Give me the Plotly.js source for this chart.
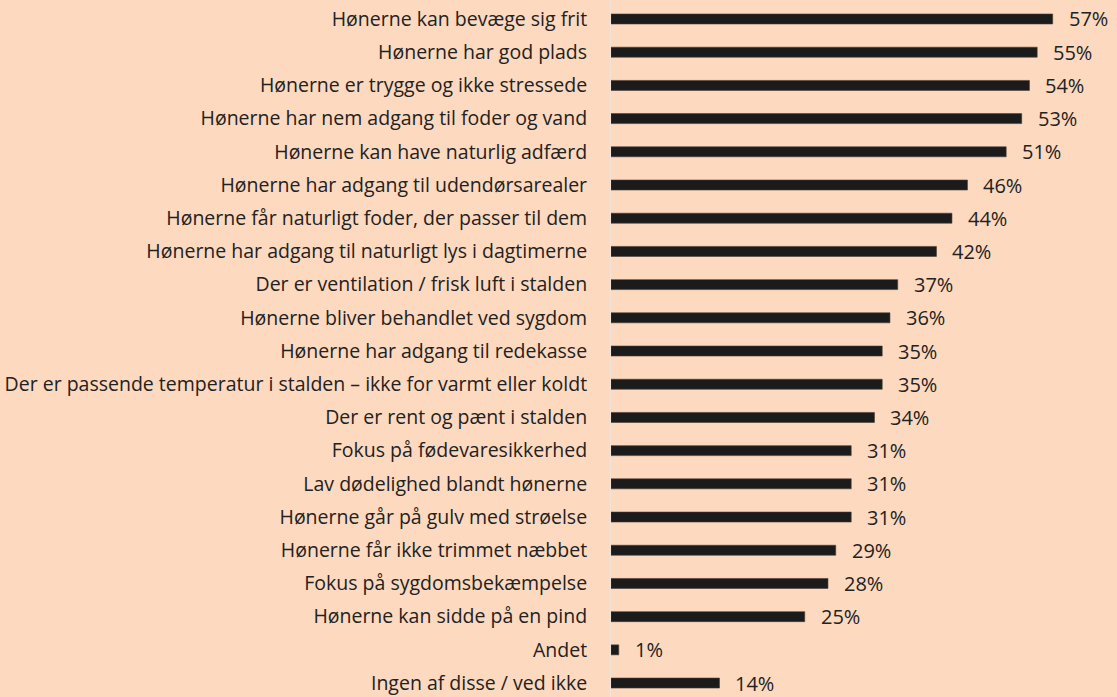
<!DOCTYPE html>
<html><head><meta charset="utf-8">
<script src="https://cdn.plot.ly/plotly-3.0.1.min.js"></script>
<style>html,body{margin:0;padding:0;background:#fcd9bf;}</style>
</head><body>
<div id="chart" style="width:1117px;height:697px;"></div>
<script>
const categories = [
  "Hønerne kan bevæge sig frit",
  "Hønerne har god plads",
  "Hønerne er trygge og ikke stressede",
  "Hønerne har nem adgang til foder og vand",
  "Hønerne kan have naturlig adfærd",
  "Hønerne har adgang til udendørsarealer",
  "Hønerne får naturligt foder, der passer til dem",
  "Hønerne har adgang til naturligt lys i dagtimerne",
  "Der er ventilation / frisk luft i stalden",
  "Hønerne bliver behandlet ved sygdom",
  "Hønerne har adgang til redekasse",
  "Der er passende temperatur i stalden – ikke for varmt eller koldt",
  "Der er rent og pænt i stalden",
  "Fokus på fødevaresikkerhed",
  "Lav dødelighed blandt hønerne",
  "Hønerne går på gulv med strøelse",
  "Hønerne får ikke trimmet næbbet",
  "Fokus på sygdomsbekæmpelse",
  "Hønerne kan sidde på en pind",
  "Andet",
  "Ingen af disse / ved ikke"
];
const values = [57, 55, 54, 53, 51, 46, 44, 42, 37, 36, 35, 35, 34, 31, 31, 31, 29, 28, 25, 1, 14];
const valueLabels = values.map(v => v + "%");

const font = "'Open Sans', sans-serif";
const trace = {
  type: "bar",
  orientation: "h",
  y: categories,
  x: values,
  width: 0.3,
  marker: {color: "#1b1b1b", line: {color: "#4a3a32", width: 0.6}},
  hoverinfo: "skip"
};
const annotations = values.map((v, i) => ({
  x: v, y: categories[i], xref: "x", yref: "y",
  text: valueLabels[i], showarrow: false,
  xanchor: "left", yanchor: "middle", xshift: 14,
  font: {family: font, size: 20, color: "#222"}
}));
const layout = {
  width: 1117, height: 697,
  paper_bgcolor: "#fcd9bf", plot_bgcolor: "#fcd9bf",
  margin: {l: 611, r: 0, t: 0, b: 0},
  showlegend: false,
  xaxis: {range: [0, 65.3], visible: false, fixedrange: true},
  yaxis: {
    type: "category",
    range: [20.42, -0.572],
    showgrid: false, zeroline: false,
    showline: true, linecolor: "#eee4dc", linewidth: 1,
    ticks: "", ticklabelstandoff: 19,
    tickfont: {family: font, size: 19.5, color: "#222"}
  },
  annotations: annotations
};
Plotly.newPlot("chart", [trace], layout, {displayModeBar: false, staticPlot: true});
</script>
</body></html>
